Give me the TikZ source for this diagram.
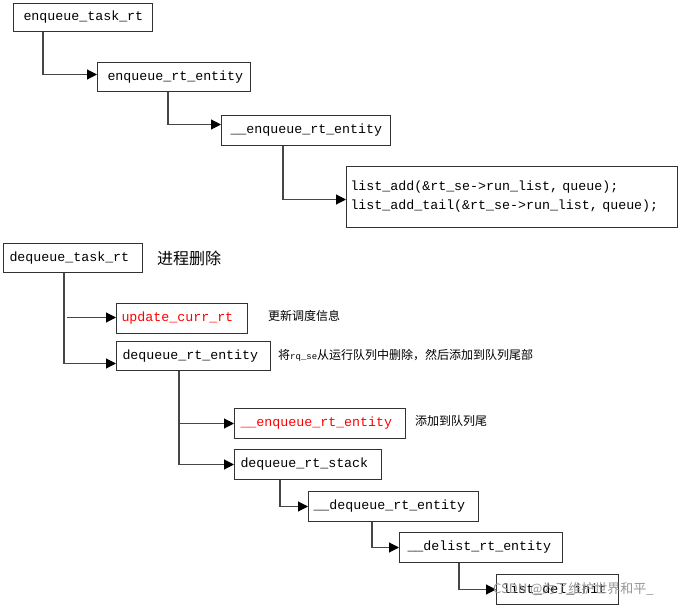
\documentclass[tikz,border=0pt]{standalone}
\usepackage{fontspec}
\setmonofont{Liberation Mono}
\newfontfamily\cjk{Noto Sans CJK SC}
\usetikzlibrary{arrows.meta,calc}
\definecolor{boxline}{RGB}{50,50,50}
\definecolor{connline}{RGB}{70,70,70}
\definecolor{wm}{RGB}{150,150,150}
\tikzset{
  box/.style={draw=boxline, line width=1pt, anchor=north west, inner ysep=0pt,
    minimum height=30pt, align=left, font=\fontsize{13.3}{19}\ttfamily},
  conn/.style={draw=connline, line width=1.1pt, -{Triangle[length=10pt,width=10pt,color=black]}},
  note/.style={anchor=west, inner sep=0pt, font=\fontsize{12}{14}\cjk},
}
\begin{document}
\begin{tikzpicture}[x=1pt,y=-1pt]
\useasboundingbox[fill=white] (0,0) rectangle (678,605);
% enqueue part
\node[box, text width=119pt, inner xsep=10pt, minimum height=28pt] (t1) at (13,3) {enqueue\_task\_rt};
\node[box, text width=133pt, inner xsep=10pt, minimum height=29pt] (t2) at (97,62) {enqueue\_rt\_entity};
\node[box, text width=151pt, inner xsep=9pt] (t3) at (221,115) {\_\_enqueue\_rt\_entity};
\node[box, text width=323pt, inner xsep=4pt, minimum height=61pt] (t4) at (346,166) {list\_add(\&rt\_se->run\_list, queue);\\list\_add\_tail(\&rt\_se->run\_list, queue);};
\coordinate (v1) at ($(t1.south west)+(30,0)$);
\coordinate (v2) at ($(t2.south west)+(71,0)$);
\coordinate (v3) at ($(t3.south west)+(62,0)$);
\draw[conn] (v1) |- ($(t2.west)+(0,-2.5)$);
\draw[conn] (v2) |- ($(t3.west)+(0,-6)$);
\draw[conn] (v3) |- ($(t4.west)+(0,2.5)$);
% dequeue part
\node[box, text width=127pt, inner xsep=6pt, minimum height=29pt] (d1) at (3,243) {dequeue\_task\_rt};
\node[anchor=west, inner sep=0pt, font=\fontsize{16}{18}\cjk] (n1) at (157,258) {进程删除};
\node[box, text width=121pt, inner xsep=5pt, text=red] (u) at (116,303) {update\_curr\_rt};
\node[note] (n2) at (268,316) {更新调度信息};
\node[box, text width=142pt, inner xsep=6pt, minimum height=29pt] (d3) at (116,341) {dequeue\_rt\_entity};
\node[note] (n3) at (278,355) {将{\fontsize{9}{10}\ttfamily rq\_se}从运行队列中删除，然后添加到队列尾部};
\node[box, text width=159pt, inner xsep=6pt, text=red] (d4) at (234,408) {\_\_enqueue\_rt\_entity};
\node[note] (n4) at (415,421) {添加到队列尾};
\node[box, text width=135pt, inner xsep=6pt] (d5) at (234,449) {dequeue\_rt\_stack};
\node[box, text width=160pt, inner xsep=5pt] (d6) at (308,491) {\_\_dequeue\_rt\_entity};
\node[box, text width=147pt, inner xsep=8pt] (d7) at (399,532) {\_\_delist\_rt\_entity};
\node[box, text width=110pt, inner xsep=6pt] (d8) at (496,574) {list\_del\_init};
\coordinate (b1) at ($(d1.south west)+(61,0)$);
\coordinate (b2) at ($(d3.south west)+(63,0)$);
\coordinate (b3) at ($(d5.south west)+(46,0)$);
\coordinate (b4) at ($(d6.south west)+(64,0)$);
\coordinate (b5) at ($(d7.south west)+(60,0)$);
\coordinate (ua) at ($(b1 |- u.west)+(3,-1)$);
\draw[conn] (b1) |- ($(d3.west)+(0,7.5)$);
\draw[conn] (ua) -- ($(u.west)+(0,-1)$);
\draw[conn] (b2) |- (d5.west);
\draw[conn] (b2 |- d4.west) -- (d4.west);
\draw[conn] (b3) |- (d6.west);
\draw[conn] (b4) |- (d7.west);
\draw[conn] (b5) |- (d8.west);
% watermark
\node[anchor=west, inner sep=0pt, text=wm, font=\fontsize{13}{14}\cjk] (wmk) at (493,589) {CSDN @为了维护世界和平\_};
\end{tikzpicture}
\end{document}
